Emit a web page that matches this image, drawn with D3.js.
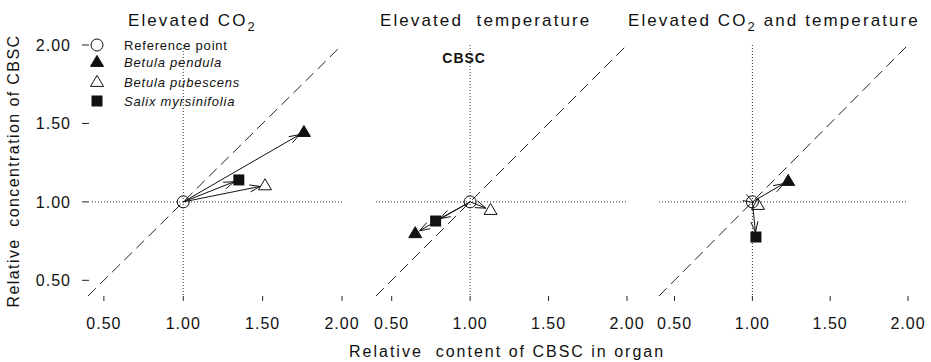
<!DOCTYPE html>
<html>
<head>
<meta charset="utf-8">
<script src="https://cdn.jsdelivr.net/npm/d3@7/dist/d3.min.js"></script>
<style>
  html, body { margin: 0; padding: 0; background: #fff; }
  svg { display: block; font-family: "Liberation Sans", Arial, sans-serif; }
  text { white-space: pre; fill: #111; }
</style>
</head>
<body>
<svg id="chart" width="931" height="362"></svg>
<script>
// Data (relative values, reference point = 1,1)
const speciesNames = ['Betula pendula', 'Betula pubescens', 'Salix myrsinifolia'];
const speciesSymbols = ['triangleFilled', 'triangleOpen', 'squareFilled'];

const co2X  = [1.76, 1.515, 1.35];
const co2Y  = [1.445, 1.105, 1.14];
const tempX = [0.65, 1.13, 0.78];
const tempY = [0.80, 0.948, 0.878];
const bothX = [1.23, 1.036, 1.023];
const bothY = [1.133, 0.98, 0.776];

const refPoint = [1, 1];
const tickValues = [0.5, 1.0, 1.5, 2.0];
const axisDomain = [0.4, 2.0];

const panels = [
  { title: ['Elevated CO', '2', ''], xs: co2X, ys: co2Y, range: [88, 342], titleX: 128 },
  { title: ['Elevated  temperature', '', ''], xs: tempX, ys: tempY, range: [376, 627], titleX: 380 },
  { title: ['Elevated CO', '2', ' and temperature'], xs: bothX, ys: bothY, range: [659, 908], titleX: 628 }
];

const svg = d3.select('#chart');
const fmt = d3.format('.2f');

const y = d3.scaleLinear().domain(axisDomain).range([296, 45]);

function drawSymbol(g, type, cx, cy) {
  if (type === 'circleOpen') {
    g.append('circle').attr('cx', cx).attr('cy', cy).attr('r', 6)
      .attr('fill', 'none').attr('stroke', '#111').attr('stroke-width', 1);
  } else if (type === 'squareFilled') {
    g.append('rect').attr('x', cx - 5.5).attr('y', cy - 5.5).attr('width', 11).attr('height', 11)
      .attr('fill', '#111');
  } else {
    const h = 11, w = 13;
    const pts = [[cx, cy - h * 0.6], [cx + w / 2, cy + h * 0.4], [cx - w / 2, cy + h * 0.4]];
    g.append('path').attr('d', 'M' + pts.join('L') + 'Z')
      .attr('fill', type === 'triangleFilled' ? '#111' : 'none')
      .attr('stroke', '#111').attr('stroke-width', 1);
  }
}

function drawArrow(g, x0, y0, x1, y1) {
  const ang = Math.atan2(y1 - y0, x1 - x0);
  const back = 5;
  const tx = x1 - back * Math.cos(ang), ty = y1 - back * Math.sin(ang);
  g.append('line').attr('x1', x0).attr('y1', y0).attr('x2', tx).attr('y2', ty)
    .attr('stroke', '#111').attr('stroke-width', 1);
  const len = 11, spread = 0.33;
  [ang + Math.PI - spread, ang + Math.PI + spread].forEach(a => {
    g.append('line').attr('x1', tx).attr('y1', ty)
      .attr('x2', tx + len * Math.cos(a)).attr('y2', ty + len * Math.sin(a))
      .attr('stroke', '#111').attr('stroke-width', 1);
  });
}

panels.forEach((p, i) => {
  const x = d3.scaleLinear().domain(axisDomain).range(p.range);
  const g = svg.append('g');

  // reference lines
  g.append('line')
    .attr('x1', x(axisDomain[0])).attr('y1', y(axisDomain[0]))
    .attr('x2', x(axisDomain[1])).attr('y2', y(axisDomain[1]))
    .attr('stroke', '#222').attr('stroke-width', 1).attr('stroke-dasharray', '11,6');
  g.append('line')
    .attr('x1', x(axisDomain[0]) + (i === 0 ? 4 : 0)).attr('y1', y(1))
    .attr('x2', x(axisDomain[1])).attr('y2', y(1))
    .attr('stroke', '#333').attr('stroke-width', 1).attr('stroke-dasharray', '1,2');
  g.append('line')
    .attr('x1', x(1)).attr('y1', y(axisDomain[1]))
    .attr('x2', x(1)).attr('y2', y(axisDomain[0]))
    .attr('stroke', '#333').attr('stroke-width', 1).attr('stroke-dasharray', '1,2');

  // x ticks
  tickValues.forEach(t => {
    g.append('line').attr('x1', x(t)).attr('x2', x(t)).attr('y1', 296).attr('y2', 301)
      .attr('stroke', '#222').attr('stroke-width', 1);
    g.append('text').attr('x', x(t)).attr('y', 329).attr('text-anchor', 'middle')
      .attr('font-size', 16).attr('letter-spacing', 1).text(fmt(t));
  });

  // title
  const t = g.append('text').attr('x', p.titleX).attr('y', 26)
    .attr('font-size', 17).attr('letter-spacing', 2.1);
  t.append('tspan').text(p.title[0]);
  if (p.title[1]) {
    t.append('tspan').attr('dy', 5).attr('font-size', 13).text(p.title[1]);
    t.append('tspan').attr('dy', -5).text(p.title[2]);
  }

  // arrows then markers
  const rx = x(refPoint[0]), ry = y(refPoint[1]);
  p.xs.forEach((v, k) => drawArrow(g, rx, ry, x(v), y(p.ys[k])));
  drawSymbol(g, 'circleOpen', rx, ry);
  p.xs.forEach((v, k) => drawSymbol(g, speciesSymbols[k], x(v), y(p.ys[k])));

  if (i === 1) {
    g.append('text').attr('x', x(1) - 6).attr('y', 63).attr('text-anchor', 'middle')
      .attr('font-size', 14).attr('font-weight', 'bold').attr('letter-spacing', 1).text('CBSC');
  }
});

// y axis (first panel only)
tickValues.forEach(t => {
  svg.append('line').attr('x1', 82).attr('x2', 89).attr('y1', y(t)).attr('y2', y(t))
    .attr('stroke', '#222').attr('stroke-width', 1);
  svg.append('text').attr('x', 71).attr('y', y(t) + 6).attr('text-anchor', 'end')
    .attr('font-size', 16).attr('letter-spacing', 1).text(fmt(t));
});

// axis titles
svg.append('text').attr('transform', 'translate(19,171) rotate(-90)')
  .attr('text-anchor', 'middle').attr('font-size', 16).attr('letter-spacing', 1.4)
  .text('Relative  concentration of CBSC');
svg.append('text').attr('x', 349).attr('y', 357)
  .attr('font-size', 16).attr('letter-spacing', 2)
  .text('Relative  content of CBSC in organ');

// legend
const legendLabels = ['Reference point'].concat(speciesNames);
const legendSymbols = ['circleOpen'].concat(speciesSymbols);
const legendY = [45, 62, 82, 101];
const lg = svg.append('g');
legendLabels.forEach((lab, k) => {
  drawSymbol(lg, legendSymbols[k], 97, legendY[k]);
  lg.append('text').attr('x', 124).attr('y', legendY[k] + 4.5)
    .attr('font-size', 13).attr('letter-spacing', 0.8)
    .attr('font-style', k === 0 ? 'normal' : 'italic').text(lab);
});
</script>
</body>
</html>
